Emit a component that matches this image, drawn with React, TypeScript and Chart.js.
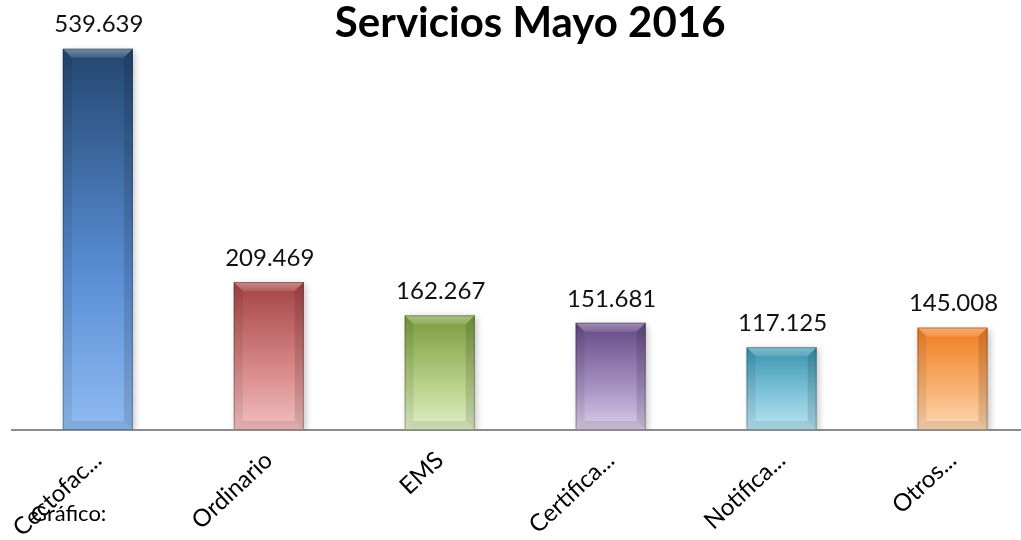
import React, { useEffect, useRef } from "react";
import { Chart, registerables } from "chart.js";

Chart.register(...registerables);

const TITLE = "Servicios Mayo 2016";
const categories = ["Cectofac...", "Ordinario", "EMS", "Certifica...", "Notifica...", "Otros..."];
const values = [539639, 209469, 162267, 151681, 117125, 145008];
const topColors = ["#23466f", "#a44343", "#7a9b3d", "#634884", "#3893ae", "#ef7d20"];
const midColors = ["#5a8fd6", "#d98a8a", "#b7d189", "#a792c3", "#86c8dc", "#f9b273"];
const bottomColors = ["#90bbf1", "#f3bfbf", "#e0eec8", "#d9cce7", "#b9e4f1", "#fdd8b4"];

const fmt = (v: number) => {
  const s = String(Math.round(v));
  return s.replace(/\B(?=(\d{3})+(?!\d))/g, ".");
};

const FONT = "Lato, 'Open Sans', sans-serif";

const decorPlugin = {
  id: "decor",
  beforeDatasetsDraw(chart: any) {
    const ctx = chart.ctx;
    ctx.save();
    ctx.shadowColor = "rgba(0,0,0,0.25)";
    ctx.shadowBlur = 7;
    ctx.shadowOffsetX = 2;
    ctx.shadowOffsetY = 2;
  },
  afterDatasetsDraw(chart: any) {
    const ctx = chart.ctx;
    ctx.restore();
    const meta = chart.getDatasetMeta(0);
    meta.data.forEach((bar: any, i: number) => {
      const { x, y, width, base } = bar.getProps(["x", "y", "width", "base"], true);
      const l = x - width / 2;
      const r = x + width / 2;
      const t = y;
      const b = base;
      const bv = 9;
      ctx.save();
      ctx.beginPath();
      ctx.moveTo(l, t);
      ctx.lineTo(r, t);
      ctx.lineTo(r - bv, t + bv);
      ctx.lineTo(l + bv, t + bv);
      ctx.closePath();
      const gt = ctx.createLinearGradient(0, t, 0, t + bv);
      gt.addColorStop(0, "rgba(255,255,255,0.38)");
      gt.addColorStop(1, "rgba(255,255,255,0.12)");
      ctx.fillStyle = gt;
      ctx.fill();
      ctx.beginPath();
      ctx.moveTo(l, t);
      ctx.lineTo(l + bv, t + bv);
      ctx.lineTo(l + bv, b - bv);
      ctx.lineTo(l, b);
      ctx.closePath();
      ctx.fillStyle = "rgba(0,0,0,0.07)";
      ctx.fill();
      ctx.beginPath();
      ctx.moveTo(r, t);
      ctx.lineTo(r - bv, t + bv);
      ctx.lineTo(r - bv, b - bv);
      ctx.lineTo(r, b);
      ctx.closePath();
      ctx.fillStyle = "rgba(0,0,0,0.12)";
      ctx.fill();
      ctx.beginPath();
      ctx.moveTo(l, b);
      ctx.lineTo(l + bv, b - bv);
      ctx.lineTo(r - bv, b - bv);
      ctx.lineTo(r, b);
      ctx.closePath();
      ctx.fillStyle = "rgba(0,0,0,0.09)";
      ctx.fill();
      ctx.strokeStyle = "rgba(0,0,0,0.28)";
      ctx.lineWidth = 1;
      ctx.strokeRect(l + 0.5, t + 0.5, width - 1, b - t - 1);
      ctx.restore();

      ctx.save();
      ctx.fillStyle = "#111";
      ctx.font = `24px ${FONT}`;
      ctx.textAlign = "center";
      ctx.textBaseline = "middle";
      ctx.fillText(fmt(values[i]), x + 1, t - 24);
      ctx.restore();
    });
    ctx.save();
    ctx.fillStyle = "#000";
    ctx.font = `bold 42px ${FONT}`;
    ctx.textAlign = "center";
    ctx.textBaseline = "middle";
    ctx.fillText(TITLE, (chart.chartArea.left + chart.chartArea.right) / 2 + 5, 23);
    ctx.restore();
  },
};

export default function App() {
  const ref = useRef<HTMLCanvasElement | null>(null);
  useEffect(() => {
    if (!ref.current) return;
    const chart = new Chart(ref.current, {
      type: "bar",
      data: {
        labels: categories,
        datasets: [
          {
            data: values,
            backgroundColor: (c: any) => {
              const i = c.dataIndex ?? 0;
              const chart = c.chart;
              if (c.type !== "data" || !chart.chartArea || !chart.scales.y) return bottomColors[i];
              const yTop = chart.scales.y.getPixelForValue(values[i]);
              const yBot = chart.scales.y.getPixelForValue(0);
              const g = chart.ctx.createLinearGradient(0, yTop, 0, yBot);
              g.addColorStop(0, topColors[i]);
              g.addColorStop(0.6, midColors[i]);
              g.addColorStop(1, bottomColors[i]);
              return g;
            },
            borderWidth: 0,
            categoryPercentage: 1,
            barPercentage: 0.41,
          },
        ],
      },
      options: {
        animation: false,
        responsive: false,
        devicePixelRatio: 1,
        layout: { padding: { left: 12, right: 2, top: 6, bottom: 0 } },
        plugins: {
          legend: { display: false },
          title: { display: false },
          tooltip: { enabled: false },
        },
        scales: {
          y: {
            display: false,
            min: 0,
            max: 600000,
          },
          x: {
            grid: { display: false, drawTicks: false },
            border: { display: true, color: "#8c8c8c", width: 2 },
            ticks: {
              color: "#000",
              font: { family: FONT, size: 24 },
              minRotation: 43,
              maxRotation: 43,
              padding: 16,
              autoSkip: false,
            },
            afterFit: (scale: any) => {
              scale.height = 110;
            },
          },
        },
      },
      plugins: [decorPlugin],
    });
    return () => chart.destroy();
  }, []);
  return (
    <div
      style={{
        position: "fixed",
        left: 0,
        top: 0,
        width: 1021,
        height: 540,
        overflow: "hidden",
        background: "#fff",
      }}
    >
      <canvas ref={ref} width={1040} height={540} style={{ display: "block", width: 1040, height: 540 }} />
      <div
        style={{
          position: "absolute",
          left: 31,
          top: 500,
          fontFamily: FONT,
          fontSize: 22,
          lineHeight: "26px",
          color: "#000",
        }}
      >
        Gráfico:
      </div>
    </div>
  );
}
